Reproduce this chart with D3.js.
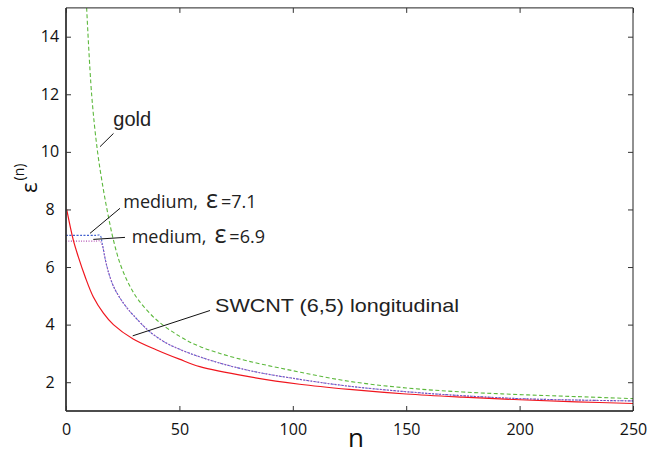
<!DOCTYPE html>
<html><head><meta charset="utf-8">
<script src="https://cdn.jsdelivr.net/npm/d3@7"></script>
<style>body{margin:0;background:#fff}svg{display:block}</style>
</head><body>
<svg id="c" width="665" height="454"></svg>
<script>
// ---- data ----
const xTicks = [0, 50, 100, 150, 200, 250];
const yTicks = [2, 4, 6, 8, 10, 12, 14];
const swcntN = [0.3, 3.2, 5.4, 8.4, 12, 16.5, 20.9, 29.6, 40, 50, 59, 80, 103, 125, 150, 175, 200, 225, 250];
const swcntE = [8.0, 6.94, 6.36, 5.67, 4.97, 4.4, 4.0, 3.5, 3.12, 2.8, 2.54, 2.2, 1.93, 1.75, 1.59, 1.48, 1.39, 1.32, 1.26];
const goldN = [9.1, 11.3, 13.8, 16.5, 18.7, 20.9, 23.8, 27.5, 31.9, 40, 50, 59, 75, 100, 125, 150, 175, 200, 225, 250];
const goldE = [15.0, 12.0, 10.07, 8.68, 7.75, 6.94, 6.13, 5.44, 4.86, 4.16, 3.6, 3.24, 2.84, 2.4, 2.03, 1.8, 1.66, 1.57, 1.5, 1.43];
const med69N = [0, 7, 13, 15, 16.2, 17.5, 19, 21, 23.5, 26.5, 30, 37, 45, 59, 80, 103, 125, 150, 175, 200, 225, 250];
const med69E = [6.9, 6.9, 6.9, 6.9, 6.7, 6.2, 5.75, 5.32, 4.96, 4.62, 4.3, 3.75, 3.33, 2.88, 2.42, 2.1, 1.86, 1.67, 1.53, 1.43, 1.38, 1.35];
const med71N = [0, 7, 13, 15, 16.0, 17.5, 19, 21, 23.5, 26.5, 30, 37, 45, 59, 80, 103, 125, 150, 175, 200, 225, 250];
const med71E = [7.1, 7.1, 7.1, 7.1, 6.8, 6.2, 5.75, 5.32, 4.96, 4.62, 4.3, 3.75, 3.33, 2.88, 2.42, 2.1, 1.86, 1.67, 1.53, 1.43, 1.38, 1.35];
// annotations
const annLabels = ["gold", "medium,", "medium,", "SWCNT (6,5) longitudinal"];
const annSuffix = ["", "=7.1", "=6.9", ""];
const annText = [[20.86, 10.90], [25.26, 8.04], [28.97, 6.82], [65.7, 4.43]];
const annLine = [[15.0, 10.18, 20.94, 10.64], [10.58, 7.17, 23.81, 8.04], [12.04, 6.96, 26.01, 7.03], [29.41, 3.61, 63.49, 4.49]];

// ---- chart ----
const svg = d3.select("#c");
const L = 66, R = 633, T = 7.9, B = 411;
const x = d3.scaleLinear().domain([0, 250]).range([L, R]);
const y = d3.scaleLinear().domain([1, 15]).range([B, T]);

svg.append("defs").append("clipPath").attr("id", "clip")
  .append("rect").attr("x", L).attr("y", T).attr("width", R - L).attr("height", B - T);

const line = d3.line().x(d => x(d[0])).y(d => y(d[1])).curve(d3.curveCatmullRom.alpha(0.5));
const plot = svg.append("g").attr("clip-path", "url(#clip)");
const zip = (a, b) => a.map((v, i) => [v, b[i]]);

plot.append("path").datum(zip(goldN, goldE)).attr("d", line)
  .attr("fill", "none").attr("stroke", "#5cb83c").attr("stroke-width", 1.1).attr("stroke-dasharray", "4,2.5");
plot.append("path").datum(zip(med71N, med71E)).attr("d", line)
  .attr("fill", "none").attr("stroke", "#3f5fcf").attr("stroke-width", 1.1).attr("stroke-dasharray", "2,1.5");
plot.append("path").datum(zip(med69N, med69E)).attr("d", line)
  .attr("fill", "none").attr("stroke", "#b450b4").attr("stroke-width", 1.1).attr("stroke-dasharray", "1,1.5");
plot.append("path").datum(zip(swcntN, swcntE)).attr("d", line)
  .attr("fill", "none").attr("stroke", "#f0161e").attr("stroke-width", 1.2);

// frame
const frame = svg.append("g");
frame.append("line").attr("x1", L).attr("x2", L).attr("y1", T).attr("y2", B).attr("stroke", "#333").attr("stroke-width", 1.8);
frame.append("line").attr("x1", L).attr("x2", R).attr("y1", B).attr("y2", B).attr("stroke", "#111").attr("stroke-width", 1.5);
frame.append("line").attr("x1", L).attr("x2", R).attr("y1", T).attr("y2", T).attr("stroke", "#222").attr("stroke-width", 1);
frame.append("line").attr("x1", R).attr("x2", R).attr("y1", T).attr("y2", B).attr("stroke", "#222").attr("stroke-width", 1);

// axes with inward ticks
const fontTick = "'Open Sans', sans-serif";
const xb = svg.append("g").attr("transform", `translate(0,${B})`)
  .call(d3.axisBottom(x).tickValues(xTicks).tickSizeInner(-5).tickSizeOuter(0).tickPadding(13));
const xt = svg.append("g").attr("transform", `translate(0,${T})`)
  .call(d3.axisTop(x).tickValues(xTicks).tickSizeInner(-5).tickSizeOuter(0).tickFormat(""));
const yl = svg.append("g").attr("transform", `translate(${L},0)`)
  .call(d3.axisLeft(y).tickValues(yTicks).tickSizeInner(-5).tickSizeOuter(0).tickPadding(16));
const yr = svg.append("g").attr("transform", `translate(${R},0)`)
  .call(d3.axisRight(y).tickValues(yTicks).tickSizeInner(-5).tickSizeOuter(0).tickFormat(""));
[xb, xt, yl, yr].forEach(g => {
  g.select(".domain").remove();
  g.selectAll(".tick line").attr("stroke", "#333").attr("stroke-width", 1);
  g.selectAll("text").attr("font-family", fontTick).attr("font-size", 16).attr("fill", "#111");
});
// left tick labels are centred at a common column
yl.selectAll(".tick text").attr("text-anchor", "middle").attr("x", -16);

// axis titles
svg.append("text").attr("x", 356).attr("y", 447).attr("text-anchor", "middle")
  .attr("font-family", fontTick).attr("font-size", 26).attr("fill", "#111").text("n");
const yt = svg.append("text").attr("transform", "translate(37,193) rotate(-90)")
  .attr("font-family", fontTick).attr("font-size", 22).attr("fill", "#111");
yt.append("tspan").text("ε");
yt.append("tspan").attr("font-size", 14).attr("dy", -13).attr("dx", 2).text("(n)");

// annotations
annLabels.forEach((lab, i) => {
  const l = annLine[i];
  svg.append("line").attr("x1", x(l[0])).attr("y1", y(l[1])).attr("x2", x(l[2])).attr("y2", y(l[3]))
    .attr("stroke", "#111").attr("stroke-width", 1);
  const isSans = (i === 0 || i === 3);
  const t = svg.append("text").attr("x", x(annText[i][0])).attr("y", y(annText[i][1]))
    .attr("font-family", isSans ? "'Liberation Sans', Arial, sans-serif" : fontTick)
    .attr("font-size", i === 0 ? 20 : (i === 3 ? 19 : 18)).attr("fill", "#222");
  t.append("tspan").text(lab);
  if (annSuffix[i]) {
    t.append("tspan").attr("font-size", 25).attr("dx", 8).text("ε");
    t.append("tspan").attr("dx", 3).text(annSuffix[i]);
  }
  if (i === 3) t.attr("textLength", 244).attr("lengthAdjust", "spacingAndGlyphs");
});
</script>
</body></html>
